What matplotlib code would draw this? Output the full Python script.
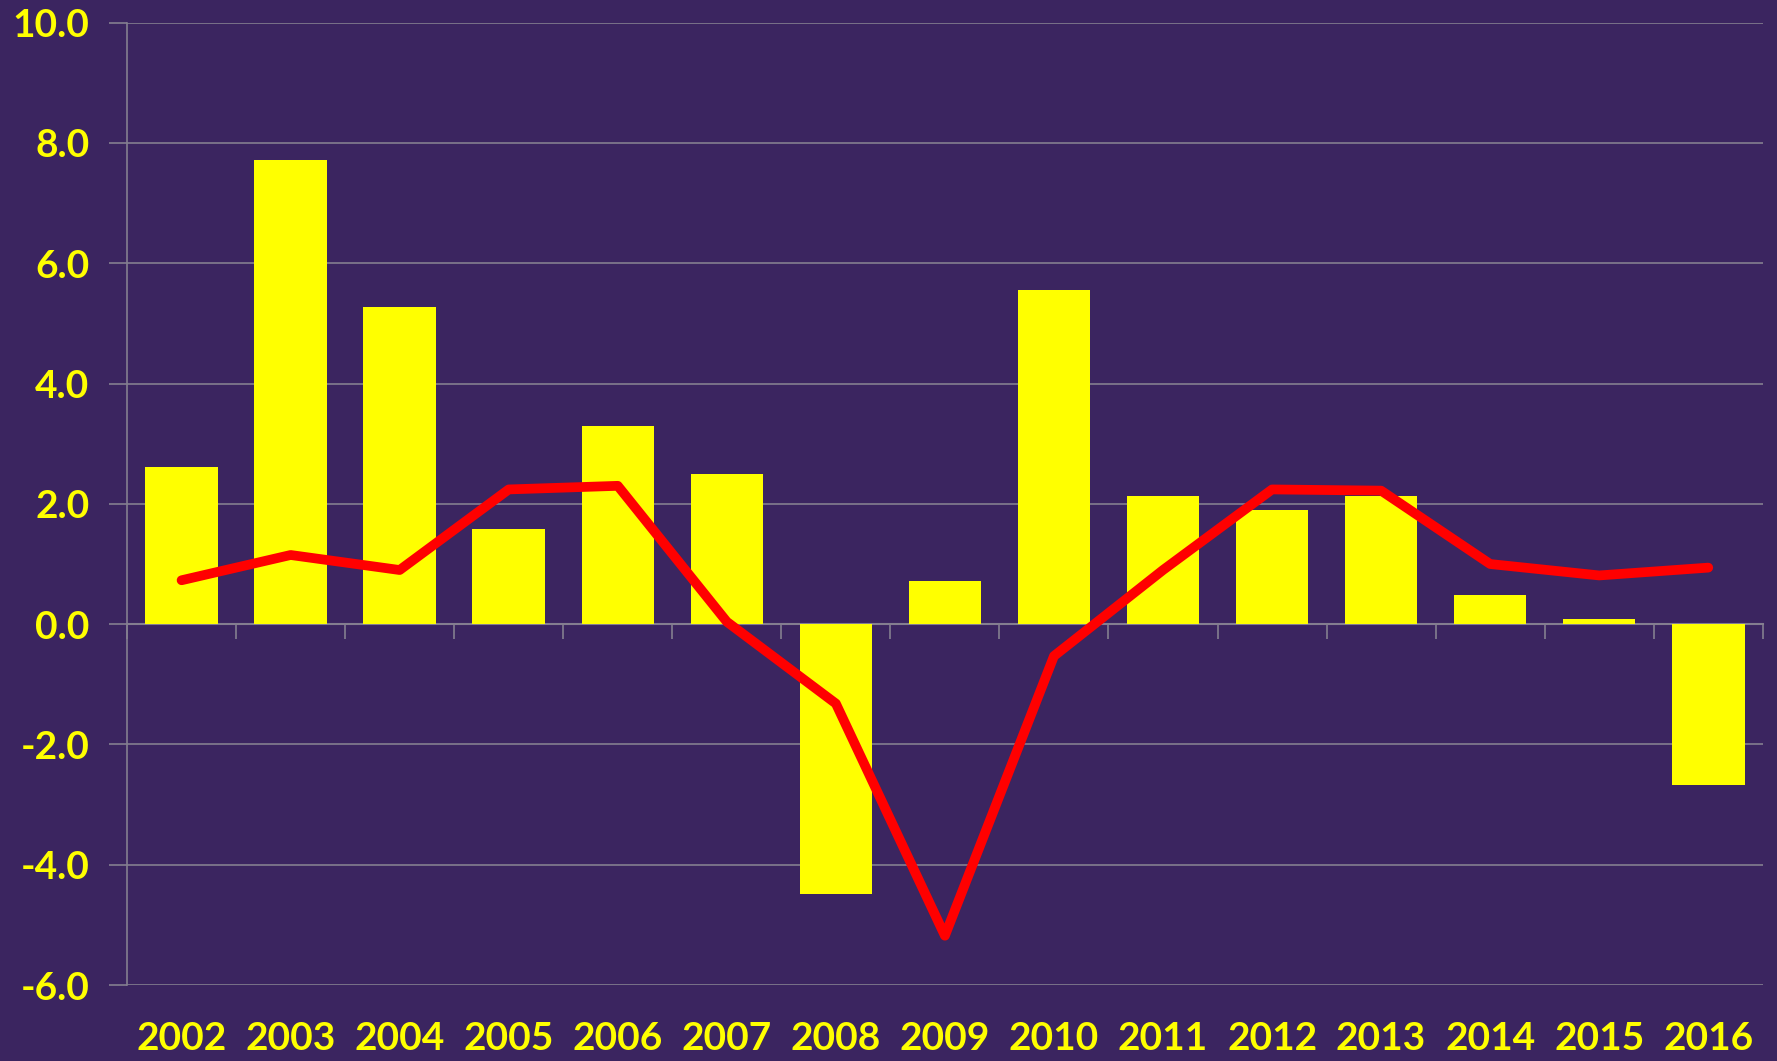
import matplotlib.pyplot as plt
import numpy as np

# datos
years = ["2002", "2003", "2004", "2005", "2006", "2007", "2008", "2009",
         "2010", "2011", "2012", "2013", "2014", "2015", "2016"]
bar_vals = [2.62, 7.72, 5.27, 1.58, 3.30, 2.50, -4.48, 0.72,
            5.56, 2.13, 1.90, 2.13, 0.49, 0.08, -2.67]
line_vals = [0.73, 1.15, 0.90, 2.24, 2.30, 0.04, -1.32, -5.18,
             -0.53, 0.90, 2.24, 2.22, 1.00, 0.81, 0.94]
yticks = [-6.0, -4.0, -2.0, 0.0, 2.0, 4.0, 6.0, 8.0, 10.0]

bg = "#3b2560"
grid_col = "#847e90"
yellow = "#ffff00"
plt.rcParams['font.family'] = ['Lato', 'DejaVu Sans']

fig = plt.figure(figsize=(17.77, 10.61), dpi=100, facecolor=bg)
ax = fig.add_axes([0.0715, 0.0716, 0.9205, 0.907])
ax.set_facecolor(bg)

x = np.arange(len(years))
ax.bar(x, bar_vals, width=0.665, color=yellow, zorder=3)
ax.plot(x, line_vals, color="#ff0000", linewidth=7, solid_capstyle="round",
        solid_joinstyle="round", zorder=4)

ax.set_xlim(-0.5, len(years) - 0.5)
ax.set_ylim(-6, 10)
ax.set_yticks(yticks)
ax.set_yticklabels(["%.1f" % v for v in yticks])
ax.yaxis.grid(True, color=grid_col, linewidth=1.2, zorder=0)

for s in ["top", "right", "bottom"]:
    ax.spines[s].set_visible(False)
ax.spines["left"].set_color(grid_col)
ax.spines["left"].set_linewidth(1.2)

ax.tick_params(axis="y", colors=grid_col, length=13, width=1.2, pad=14,
               labelcolor=yellow, labelsize=28)
ax.set_xticks(x)
ax.set_xticklabels(years, fontsize=28, fontweight="bold", color=yellow)
ax.tick_params(axis="x", length=0, pad=26)
for lbl in ax.get_yticklabels():
    lbl.set_fontweight("bold")

# eje en cero con marcas entre categorias
sec = ax.secondary_xaxis(6 / 16)
sec.set_xticks(np.arange(len(years) + 1) - 0.5)
sec.set_xticklabels([])
sec.tick_params(axis="x", colors=grid_col, length=11, width=1.2, direction="out")
sec.spines["bottom"].set_color(grid_col)
sec.spines["bottom"].set_linewidth(1.5)

plt.savefig("out.png", facecolor=bg)
